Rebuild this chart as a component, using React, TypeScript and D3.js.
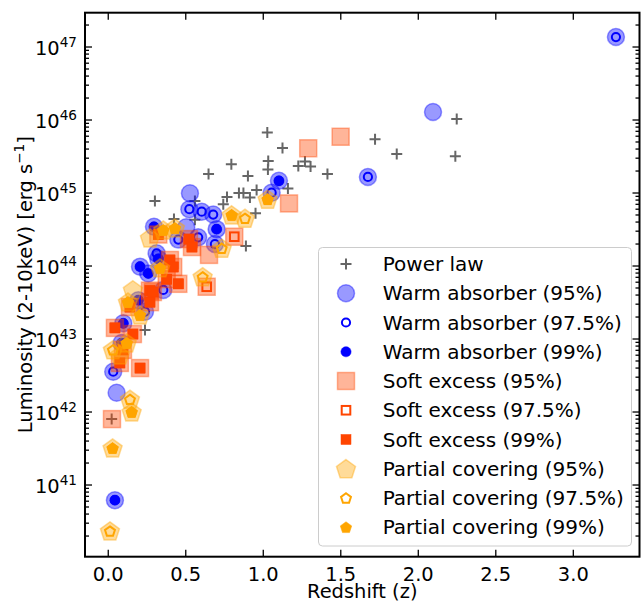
import React from "react";
import * as d3 from "d3";

// [redshift, luminosity]
const powerLaw: [number, number][] = [
  [0.022, 8.0e41], [0.237, 1.33e43], [0.301, 7.8e44], [0.424, 4.4e44], [0.559, 7.8e44],
  [0.559, 4.3e44], [0.647, 1.82e45], [0.742, 7.0e44], [0.766, 8.8e44], [0.794, 2.47e45],
  [0.843, 1.0e45], [0.872, 1.0e45], [0.901, 1.71e45], [0.914, 8.7e44], [0.957, 1.1e45],
  [0.95, 5.3e44], [0.888, 1.88e44], [1.026, 6.75e45], [1.032, 2.74e45], [1.03, 2.1e45],
  [1.124, 4.13e45], [1.159, 1.15e45], [1.226, 2.34e45], [1.269, 2.7e45], [1.305, 2.3e45],
  [1.414, 1.82e45], [1.721, 5.45e45], [1.861, 3.42e45], [2.248, 1.03e46], [2.239, 3.2e45],
];

// [redshift, luminosity, highest significance level]
const warmAbsorber: [number, number, number][] = [
  [3.275, 1.37e47, 97.5], [2.095, 1.29e46, 95], [1.675, 1.66e45, 97.5], [1.101, 1.47e45, 99],
  [1.054, 1.01e45, 97.5], [0.527, 9.9e44, 95], [0.523, 6.0e44, 97.5], [0.603, 5.55e44, 97.5],
  [0.677, 5.07e44, 97.5], [0.699, 3.2e44, 99], [0.688, 2.0e44, 97.5], [0.295, 3.45e44, 99],
  [0.312, 1.49e44, 97.5], [0.323, 1.25e44, 99], [0.205, 9.8e43, 99], [0.258, 7.9e43, 99],
  [0.355, 4.7e43, 97.5], [0.194, 3.4e43, 99], [0.237, 2.37e43, 97.5], [0.097, 1.64e43, 99],
  [0.086, 8.8e42, 99], [0.032, 3.57e42, 97.5], [0.054, 1.84e42, 95], [0.043, 6.2e40, 99],
  [0.58, 2.47e44, 97.5], [0.452, 2.3e44, 97.5], [0.503, 3.4e44, 95],
];

const softExcess: [number, number, number][] = [
  [1.499, 5.9e45, 95], [1.29, 4.1e45, 95], [1.166, 7.2e44, 95], [0.813, 2.52e44, 97.5],
  [0.65, 1.42e44, 95], [0.635, 5.2e43, 97.5], [0.024, 8.0e41, 95], [0.205, 4.0e42, 99],
  [0.323, 2.7e44, 99], [0.521, 2.34e44, 99], [0.54, 1.82e44, 99], [0.398, 1.21e44, 99],
  [0.419, 9.7e43, 99], [0.452, 5.7e43, 99], [0.377, 6.6e43, 99], [0.269, 4.6e43, 99],
  [0.288, 4.4e43, 99], [0.269, 3.2e43, 99], [0.14, 2.74e43, 99], [0.043, 1.42e43, 99],
  [0.159, 1.17e43, 99], [0.095, 7.1e42, 99], [0.075, 4.7e42, 99],
];

const partialCovering: [number, number, number][] = [
  [1.028, 8.2e44, 99], [0.882, 4.5e44, 97.5], [0.796, 5.0e44, 99], [0.732, 1.75e44, 97.5],
  [0.355, 3.1e44, 99], [0.609, 7.1e43, 97.5], [0.14, 1.49e42, 97.5], [0.151, 1.0e42, 99],
  [0.028, 3.2e41, 99], [0.011, 2.34e40, 97.5], [0.43, 3.3e44, 99], [0.269, 2.42e44, 95],
  [0.127, 3.2e43, 99], [0.205, 2.13e43, 99], [0.119, 8.8e42, 99], [0.03, 7.1e42, 97.5],
  [0.159, 4.7e43, 95], [0.334, 9.4e43, 99], [0.075, 6.0e42, 95],
];

const xTicks = [0, 0.5, 1.0, 1.5, 2.0, 2.5, 3.0];
const yTickExps = [41, 42, 43, 44, 45, 46, 47];
const legendLabels = [
  "Power law",
  "Warm absorber (95%)",
  "Warm absorber (97.5%)",
  "Warm absorber (99%)",
  "Soft excess (95%)",
  "Soft excess (97.5%)",
  "Soft excess (99%)",
  "Partial covering (95%)",
  "Partial covering (97.5%)",
  "Partial covering (99%)",
];

const W = 643, H = 602;
const L = 85, R = 639.5, T = 12.7, B = 556.7;
const FONT = "DejaVu Sans, sans-serif";
const FS = 19.44;
const LFS = 20;

const BLUE = "#0000ff", RED = "#ff4500", ORANGE = "#ffa500", GRAY = "#666666";

const x = d3.scaleLinear().domain([-0.15, 3.427]).range([L, R]);
const y = d3.scaleLog().domain([Math.pow(10, 40.018), Math.pow(10, 47.47)]).range([B, T]);

function pentPoints(cx: number, cy: number, r: number) {
  const pts: string[] = [];
  for (let k = 0; k < 5; k++) {
    const a = (-90 + 72 * k) * Math.PI / 180;
    pts.push(`${cx + r * Math.cos(a)},${cy + r * Math.sin(a)}`);
  }
  return pts.join(" ");
}

type Kind = "plus" | "c95" | "c975" | "c99" | "s95" | "s975" | "s99" | "p95" | "p975" | "p99";

function Marker({ kind, cx, cy }: { kind: Kind; cx: number; cy: number }) {
  switch (kind) {
    case "plus":
      return <path d={`M${cx - 5.5},${cy}H${cx + 5.5}M${cx},${cy - 5.5}V${cy + 5.5}`} stroke={GRAY} strokeWidth={2} />;
    case "c95":
      return <circle cx={cx} cy={cy} r={8.5} fill={BLUE} fillOpacity={0.4} stroke={BLUE} strokeOpacity={0.4} strokeWidth={1.5} />;
    case "c975":
      return <circle cx={cx} cy={cy} r={4.1} fill="none" stroke={BLUE} strokeWidth={2} />;
    case "c99":
      return <circle cx={cx} cy={cy} r={5.1} fill={BLUE} stroke={BLUE} strokeWidth={0.5} />;
    case "s95":
      return <rect x={cx - 8.5} y={cy - 8.5} width={17} height={17} fill={RED} fillOpacity={0.4} stroke={RED} strokeOpacity={0.4} strokeWidth={1.5} />;
    case "s975":
      return <rect x={cx - 4.3} y={cy - 4.3} width={8.6} height={8.6} fill="none" stroke={RED} strokeWidth={2} />;
    case "s99":
      return <rect x={cx - 5} y={cy - 5} width={10} height={10} fill={RED} stroke={RED} strokeWidth={0.5} />;
    case "p95":
      return <polygon points={pentPoints(cx, cy + 0.8, 10)} fill={ORANGE} fillOpacity={0.4} stroke={ORANGE} strokeOpacity={0.4} strokeWidth={1.5} />;
    case "p975":
      return <polygon points={pentPoints(cx, cy + 0.5, 5.2)} fill="none" stroke={ORANGE} strokeWidth={2} />;
    case "p99":
      return <polygon points={pentPoints(cx, cy + 0.5, 6)} fill={ORANGE} stroke={ORANGE} strokeWidth={0.5} />;
  }
  return null;
}

function layer(data: [number, number, number][], minLevel: number, kind: Kind, key: string) {
  return (
    <g key={key}>
      {data.filter(d => d[2] >= minLevel).map((d, i) => (
        <Marker key={i} kind={kind} cx={x(d[0])} cy={y(d[1])} />
      ))}
    </g>
  );
}

export default function App() {
  const minorTicks: number[] = [];
  for (let e = 40; e <= 47; e++) {
    for (let m = 1; m <= 9; m++) {
      const v = m * Math.pow(10, e);
      const py = y(v);
      if (py >= T && py <= B) minorTicks.push(v);
    }
  }
  const legendKinds: Kind[] = ["plus", "c95", "c975", "c99", "s95", "s975", "s99", "p95", "p975", "p99"];
  return (
    <svg width={W} height={H} style={{ position: "fixed", left: 0, top: 0, background: "#fff" }} fontFamily={FONT}>
      <rect x={0} y={0} width={W} height={H} fill="#fff" />
      {/* data */}
      <g>
        {powerLaw.map((d, i) => <Marker key={i} kind="plus" cx={x(d[0])} cy={y(d[1])} />)}
      </g>
      {layer(warmAbsorber, 95, "c95", "wa95")}
      {layer(warmAbsorber, 97.5, "c975", "wa975")}
      {layer(warmAbsorber, 99, "c99", "wa99")}
      {layer(softExcess, 95, "s95", "se95")}
      {layer(softExcess, 97.5, "s975", "se975")}
      {layer(softExcess, 99, "s99", "se99")}
      {layer(partialCovering, 95, "p95", "pc95")}
      {layer(partialCovering, 97.5, "p975", "pc975")}
      {layer(partialCovering, 99, "p99", "pc99")}

      {/* ticks */}
      <g stroke="#000" strokeWidth={1.3}>
        {xTicks.map(t => (
          <g key={t}>
            <line x1={x(t)} x2={x(t)} y1={B} y2={B - 7} />
            <line x1={x(t)} x2={x(t)} y1={T} y2={T + 7} />
          </g>
        ))}
        {minorTicks.map((v, i) => {
          const major = Math.abs(Math.log10(v) - Math.round(Math.log10(v))) < 1e-9;
          const len = major ? 7 : 4;
          return (
            <g key={i}>
              <line x1={L} x2={L + len} y1={y(v)} y2={y(v)} />
              <line x1={R} x2={R - len} y1={y(v)} y2={y(v)} />
            </g>
          );
        })}
      </g>
      <rect x={L} y={T} width={R - L} height={B - T} fill="none" stroke="#000" strokeWidth={2} />

      {/* tick labels */}
      <g fontSize={FS} fill="#000">
        {xTicks.map(t => (
          <text key={t} x={x(t)} y={B + 24} textAnchor="middle">{t.toFixed(1)}</text>
        ))}
        {yTickExps.map(e => (
          <text key={e} x={77} y={y(Math.pow(10, e)) + 7.5} textAnchor="end">
            10<tspan dy={-8} fontSize={13.6}>{e}</tspan>
          </text>
        ))}
      </g>

      {/* axis labels */}
      <text x={(L + R) / 2} y={598} textAnchor="middle" fontSize={FS}>Redshift (z)</text>
      <text transform={`translate(31.5,${(T + B) / 2}) rotate(-90)`} textAnchor="middle" fontSize={FS}>
        Luminosity (2-10keV) [erg s<tspan dy={-8} fontSize={13.6}>−1</tspan><tspan dy={8}>]</tspan>
      </text>

      {/* legend */}
      <rect x={318.5} y={247.5} width={313} height={298.5} rx={4} fill="#fff" fillOpacity={0.8} stroke="#cccccc" strokeWidth={1} />
      {legendLabels.map((lab, i) => {
        const cy = 264 + i * 29.25;
        return (
          <g key={lab}>
            <Marker kind={legendKinds[i]} cx={346} cy={cy} />
            <text x={382.7} y={cy + 7.2} fontSize={LFS}>{lab}</text>
          </g>
        );
      })}
    </svg>
  );
}
